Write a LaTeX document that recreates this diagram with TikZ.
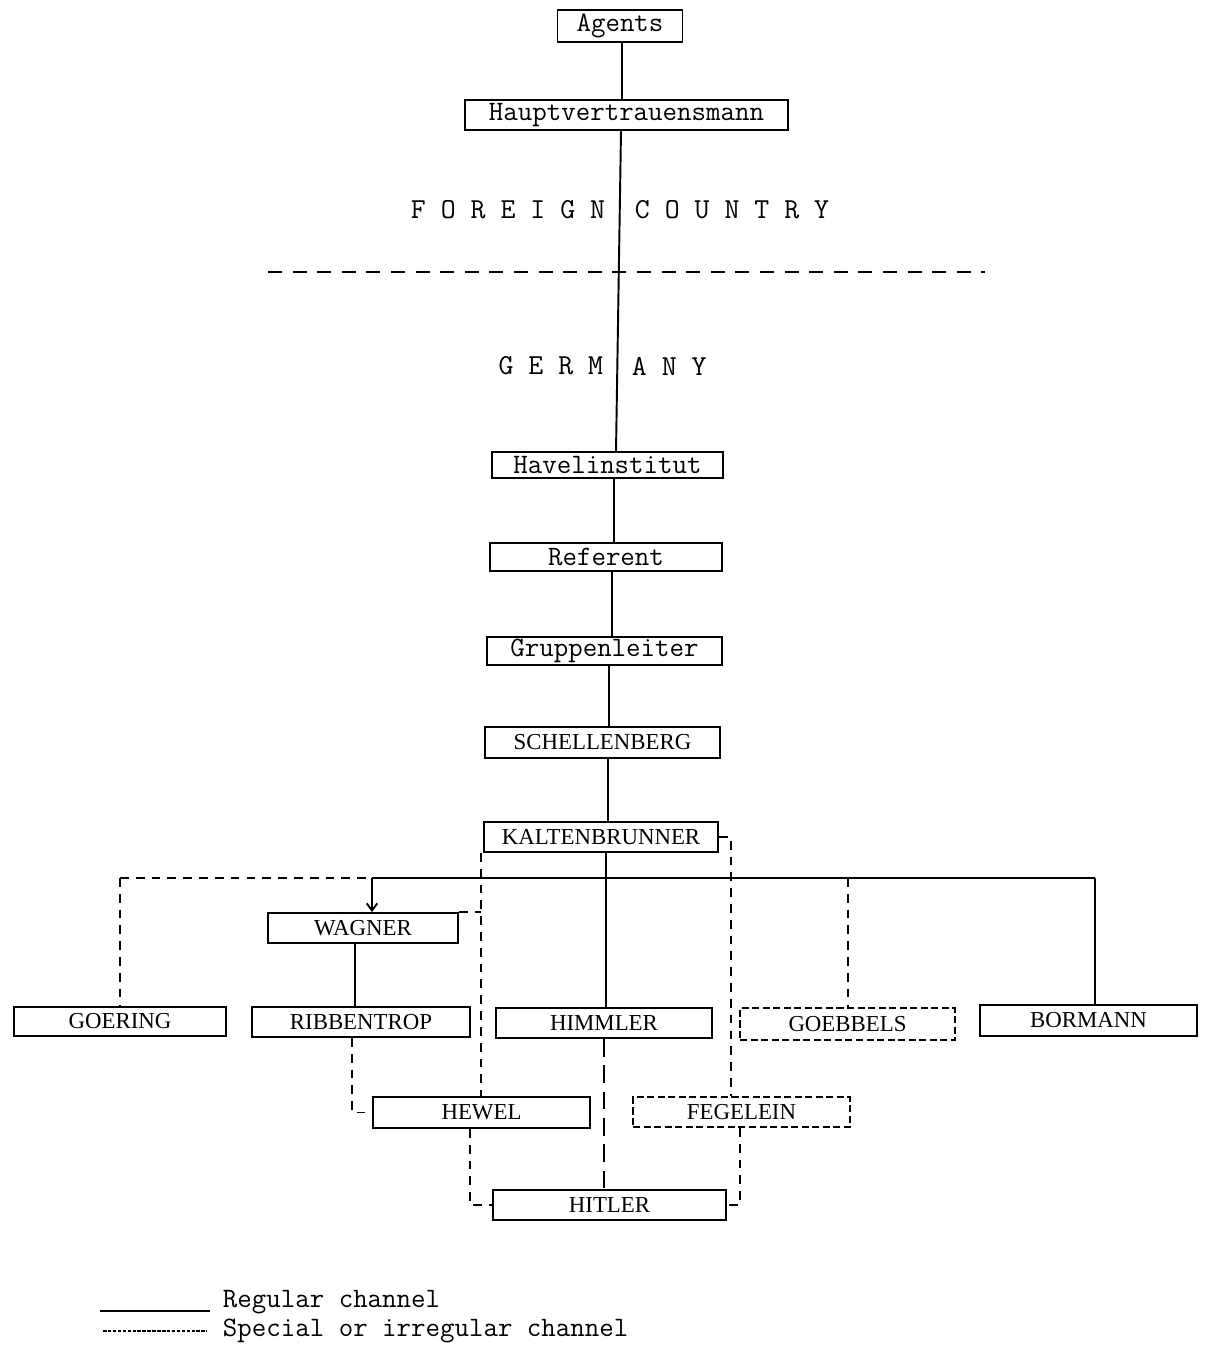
\documentclass[tikz,border=0pt]{standalone}
\usepackage{fontspec}
\setmainfont{Liberation Serif}
\usetikzlibrary{arrows.meta}
\begin{document}
\begin{tikzpicture}[x=0.02cm,y=-0.02cm, line width=1.1pt,
  box/.style={draw, rectangle, inner sep=0pt, minimum height=0.6cm, font=\ttfamily\fontsize{16}{18}\selectfont},
  namebox/.style={box, font=\rmfamily\fontsize{13}{15}\selectfont},
  dashbox/.style={namebox, dash pattern=on 4pt off 2pt},
  spec/.style={dash pattern=on 5pt off 4pt},
  spectwo/.style={dash pattern=on 10pt off 5pt},
  divider/.style={dash pattern=on 8pt off 6pt},
  legdash/.style={dash pattern=on 2pt off 0.8pt},
  lbl/.style={inner sep=0pt, font=\ttfamily\fontsize{16.5}{18}\selectfont},
  legtext/.style={inner sep=0pt, font=\ttfamily\fontsize{16}{18}\selectfont}]
\useasboundingbox (0,0) rectangle (1209,1348);

% boxes
\node[box, minimum width=2.5cm, minimum height=0.64cm] (agents) at (620,26) {Agents};
\node[box, minimum width=6.46cm] (haupt) at (626.5,115) {Hauptvertrauensmann};
\node[box, minimum width=4.62cm, minimum height=0.52cm] (havel) at (607.5,465) {Havelinstitut};
\node[box, minimum width=4.64cm, minimum height=0.56cm] (ref) at (606,557) {Referent};
\node[box, minimum width=4.7cm, minimum height=0.56cm] (grupp) at (604.5,651) {Gruppenleiter};
\node[namebox, minimum width=4.7cm, minimum height=0.62cm] (schell) at (602.5,742.5) {SCHELLENBERG};
\node[namebox, minimum width=4.68cm] (kalten) at (601,837) {KALTENBRUNNER};
\node[namebox, minimum width=3.8cm] (wagner) at (363,928) {WAGNER};
\node[namebox, minimum width=4.24cm, minimum height=0.58cm] (goering) at (120,1021.5) {GOERING};
\node[namebox, minimum width=4.36cm] (ribb) at (361,1022) {RIBBENTROP};
\node[namebox, minimum width=4.32cm] (himmler) at (604,1023) {HIMMLER};
\node[dashbox, minimum width=4.3cm, minimum height=0.64cm] (goebbels) at (847.5,1024) {GOEBBELS};
\node[namebox, minimum width=4.34cm, minimum height=0.62cm] (bormann) at (1088.5,1020.5) {BORMANN};
\node[namebox, minimum width=4.34cm, minimum height=0.62cm] (hewel) at (481.5,1112.5) {HEWEL};
\node[dashbox, minimum width=4.34cm] (fegelein) at (741.5,1112) {FEGELEIN};
\node[namebox, minimum width=4.66cm] (hitler) at (609.5,1205) {HITLER};

% region labels
\node[lbl, anchor=east] (foreign) at (606,210) {F O R E I G N};
\node[lbl, anchor=west] (country) at (634,210) {C O U N T R Y};
\node[lbl, anchor=east] (germ) at (604,366) {G E R M};
\node[lbl, anchor=west] (any) at (631,366) {A N Y};
\draw[divider] (268,272) -- (985,272);

% helper columns
\coordinate (xa) at (622,0);
\coordinate (xb) at (621,0);
\coordinate (xc) at (616,0);
\coordinate (xd) at (614,0);
\coordinate (xe) at (612,0);
\coordinate (xf) at (609,0);
\coordinate (xg) at (608,0);
\coordinate (xh) at (606,0);
\coordinate (xw) at (355,0);
\coordinate (xk) at (481,0);
\coordinate (xq) at (731,0);
\coordinate (xr) at (352,0);
\coordinate (xs) at (470,0);
\coordinate (xt) at (740,0);
\coordinate (xi) at (604,0);
\coordinate (bw) at (120,878);
\coordinate (bwag) at (372,878);
\coordinate (bgoeb) at (848,878);
\coordinate (bbor) at (1095,878);

% regular spine
\draw (agents.south -| xa) -- (haupt.north -| xa);
\draw (haupt.south -| xb) -- (havel.north -| xc);
\draw (havel.south -| xd) -- (ref.north -| xd);
\draw (ref.south -| xe) -- (grupp.north -| xe);
\draw (grupp.south -| xf) -- (schell.north -| xf);
\draw (schell.south -| xg) -- (kalten.north -| xg);
\draw (kalten.south -| xh) -- (himmler.north -| xh);

% bus
\draw (bwag) -- (bbor);
\draw[spec] (bw) -- (bwag);
\draw[spec] (bw) -- (goering.north);
\draw[-{Straight Barb[length=4pt,width=6pt]}] (bwag) -- (wagner.north -| bwag);
\draw[spec] (bgoeb) -- (goebbels.north -| bgoeb);
\draw (bbor) -- (bormann.north -| bbor);
\draw (wagner.south -| xw) -- (ribb.north -| xw);

% special channels
\draw[spec] (kalten.south -| xk) -- (hewel.north -| xk);
\draw[spec] (wagner.north east) -- (wagner.north east -| xk);
\draw[spec] (kalten.east) -| (fegelein.north -| xq);
\draw[spec] (ribb.south -| xr) |- (hewel.west);
\draw[spec] (hewel.south -| xs) |- (hitler.west);
\draw[spec] (fegelein.south -| xt) |- (hitler.east);
\draw[spectwo] (himmler.south -| xi) -- (hitler.north -| xi);

% legend
\coordinate (l1a) at (100,1311);
\coordinate (l1b) at (210,1311);
\coordinate (l2a) at (103,1331);
\coordinate (l2b) at (207,1331);
\draw (l1a) -- (l1b);
\draw[legdash] (l2a) -- (l2b);
\node[legtext, anchor=base west] (legreg) at (222,1307) {Regular channel};
\node[legtext, anchor=base west] (legspec) at (222,1336) {Special or irregular channel};
\end{tikzpicture}
\end{document}
